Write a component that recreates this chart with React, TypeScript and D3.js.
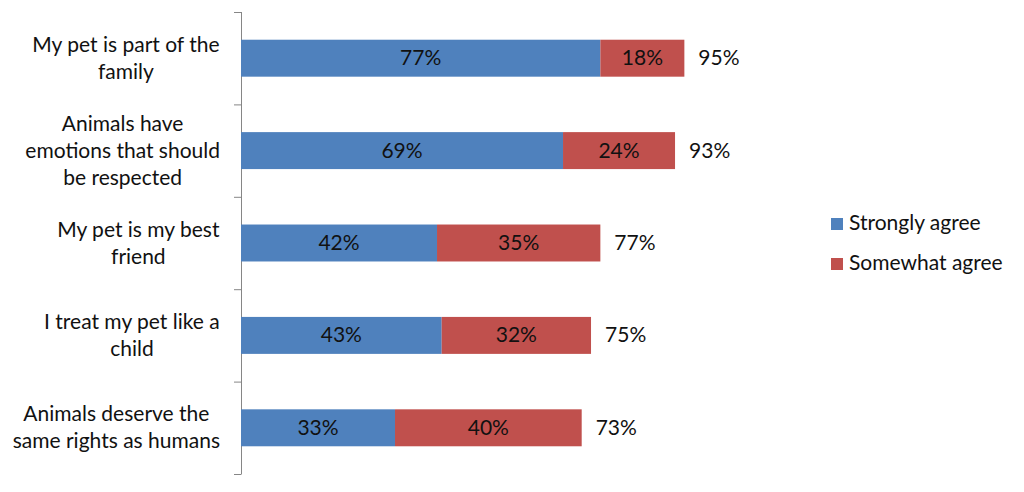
import React from "react";
import * as d3 from "d3";

const categories: string[][] = [
  ["My pet is part of the", "family"],
  ["Animals have", "emotions that should", "be respected"],
  ["My pet is my best", "friend"],
  ["I treat my pet like a", "child"],
  ["Animals deserve the", "same rights as humans"],
];
const stronglyAgree = [77, 69, 42, 43, 33];
const somewhatAgree = [18, 24, 35, 32, 40];
const totals = [95, 93, 77, 75, 73];
const seriesNames = ["Strongly agree", "Somewhat agree"];
const colors = ["#4F81BD", "#C0504D"];

const W = 1024;
const H = 492;
const FONT = "Lato, 'Noto Sans', sans-serif";
const FS = 21;

function measure(text: string): number {
  const c = document.createElement("canvas").getContext("2d");
  if (!c) return text.length * FS * 0.5;
  c.font = `${FS}px Lato`;
  return c.measureText(text).width;
}

export default function App() {
  const ids = categories.map((_, i) => String(i));
  const band = d3.scaleBand<string>().domain(ids).range([12, 474]).paddingInner(0.6).paddingOuter(0.3);
  const tickScale = d3.scaleBand<string>().domain(ids).range([12, 474]).padding(0);
  const x = d3.scaleLinear().domain([0, 100]).range([241, 707.7]);
  const lineH = 27;
  const labelRight = 220;
  const dy = 7;

  return (
    <svg width={W} height={H} style={{ position: "absolute", left: 0, top: 0, background: "#fff" }} fontFamily={FONT}>
      <line x1={241.5} x2={241.5} y1={12} y2={474} stroke="#868686" strokeWidth={1} />
      {ids.map((id) => (
        <line key={"t" + id} x1={234} x2={241.5} y1={tickScale(id)! + 0.5} y2={tickScale(id)! + 0.5} stroke="#868686" />
      ))}
      <line x1={234} x2={241.5} y1={474.5} y2={474.5} stroke="#868686" />

      {categories.map((lines, i) => {
        const id = ids[i];
        const y0 = band(id)!;
        const bw = band.bandwidth();
        const cy = y0 + bw / 2;
        const s = stronglyAgree[i];
        const m = somewhatAgree[i];
        const maxW = Math.max(...lines.map(measure));
        const cx = labelRight - maxW / 2;
        const firstBase = cy + dy - ((lines.length - 1) * lineH) / 2;
        return (
          <g key={id}>
            <rect x={x(0)} y={y0} width={x(s) - x(0)} height={bw} fill={colors[0]} />
            <rect x={x(s)} y={y0} width={x(s + m) - x(s)} height={bw} fill={colors[1]} />
            <text x={(x(0) + x(s)) / 2} y={cy + dy} textAnchor="middle" fontSize={FS} fill="#111">{s}%</text>
            <text x={(x(s) + x(s + m)) / 2} y={cy + dy} textAnchor="middle" fontSize={FS} fill="#111">{m}%</text>
            <text x={x(s + m) + 14} y={cy + dy} textAnchor="start" fontSize={FS} fill="#111">{totals[i]}%</text>
            {lines.map((ln, j) => (
              <text key={j} x={cx} y={firstBase + j * lineH} textAnchor="middle" fontSize={FS} fill="#111">{ln}</text>
            ))}
          </g>
        );
      })}

      {seriesNames.map((name, i) => (
        <g key={name}>
          <rect x={831} y={218 + i * 40} width={12} height={12} fill={colors[i]} />
          <text x={849} y={230 + i * 40} fontSize={FS} fill="#111">{name}</text>
        </g>
      ))}
    </svg>
  );
}
